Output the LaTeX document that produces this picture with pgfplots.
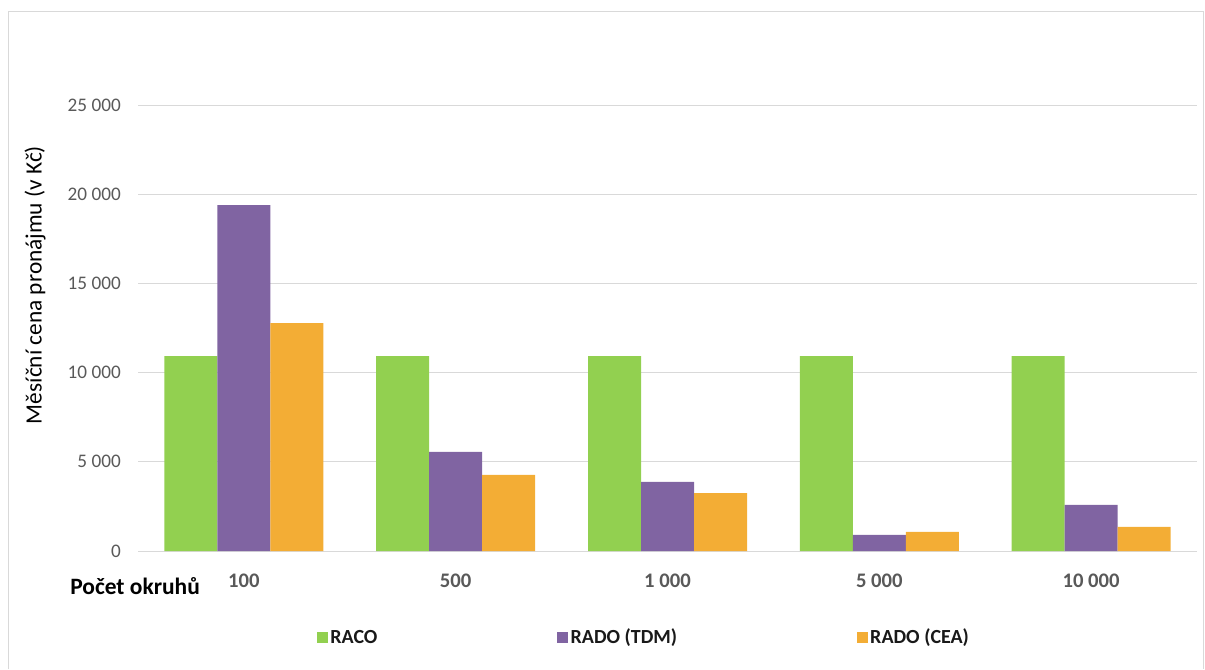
\documentclass[border=0pt]{standalone}
\usepackage{pgfplots}
\pgfplotsset{compat=1.18}
\usepackage{fontspec}
\setmainfont{Carlito}
\definecolor{cgreen}{HTML}{92D050}
\definecolor{cpurple}{HTML}{8064A2}
\definecolor{corange}{HTML}{F3AD35}
\definecolor{tgray}{HTML}{595959}
\definecolor{ggray}{HTML}{D9D9D9}
\begin{document}
\begin{tikzpicture}
\useasboundingbox (0,0) rectangle (903.75pt,501.75pt);
\draw[ggray, line width=0.75pt] (6pt,0pt) -- (6pt,492.75pt) -- (902.25pt,492.75pt) -- (902.25pt,0pt);
\begin{axis}[
  at={(103.5pt,88.5pt)}, anchor=south west,
  scale only axis, width=794.25pt, height=334.5pt,
  xmin=-0.5, xmax=4.5, ymin=0, ymax=25000,
  scaled y ticks=false,
  ybar=0pt, bar width=39.75pt,
  axis line style={draw=none},
  ymajorgrids, grid style={ggray, line width=0.75pt},
  major tick length=0pt,
  xtick={0,1,2,3,4},
  xticklabels={100,500,1~000,5~000,10~000},
  ytick={0,5000,10000,15000,20000,25000},
  yticklabels={0,5~000,10~000,15~000,20~000,25~000},
  xticklabel style={font=\fontsize{15.5}{17}\selectfont\bfseries, text=tgray, anchor=center, yshift=-22.5pt},
  yticklabel style={font=\fontsize{14.4}{16}\selectfont, text=tgray, anchor=east, inner sep=0pt, xshift=-12.75pt},
  legend columns=3,
  legend style={at={(0.169,-0.194)}, anchor=west, draw=none, fill=none, inner sep=0pt, outer sep=0pt,
    font=\fontsize{15}{17}\selectfont\bfseries, text=black!90,
    /tikz/every even column/.append style={column sep=133pt},
    nodes={inner sep=1.8pt}},
  legend image code/.code={\fill[#1] (0pt,-4.125pt) rectangle (8.25pt,4.125pt);},
]
\addplot[fill=cgreen, draw=none] coordinates {(0,10930) (1,10930) (2,10930) (3,10930) (4,10930)};
\addplot[fill=cpurple, draw=none] coordinates {(0,19390) (1,5560) (2,3870) (3,900) (4,2580)};
\addplot[fill=corange, draw=none] coordinates {(0,12780) (1,4270) (2,3250) (3,1070) (4,1350)};
\legend{RACO,RADO (TDM),RADO (CEA)}
\end{axis}
\node[anchor=west, inner sep=0pt, font=\fontsize{17.6}{20}\selectfont\bfseries] at (52.5pt,62.5pt) {Počet okruhů};
\node[rotate=90, inner sep=0pt, font=\fontsize{17.5}{20}\selectfont] at (26.25pt,288pt) {Měsíční cena pronájmu (v Kč)};
\end{tikzpicture}
\end{document}
